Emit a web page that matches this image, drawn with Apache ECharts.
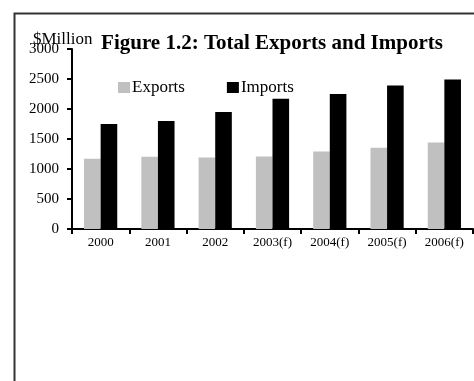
<!DOCTYPE html>
<html>
<head>
<meta charset="utf-8">
<script src="https://cdn.jsdelivr.net/npm/echarts@6/dist/echarts.min.js"></script>
<style>
  html, body { margin: 0; padding: 0; background: #fff; }
  #chart { width: 474px; height: 381px; }
</style>
</head>
<body>
<div id="chart"></div>
<script>
// 数据
const years = ['2000', '2001', '2002', '2003(f)', '2004(f)', '2005(f)', '2006(f)'];
const exportsData = [1170, 1205, 1190, 1210, 1290, 1355, 1440];
const importsData = [1750, 1800, 1950, 2170, 2250, 2390, 2490];

const serif = '"Liberation Serif", "Times New Roman", serif';

const chart = echarts.init(document.getElementById('chart'));

chart.setOption({
    animation: false,
    backgroundColor: '#fff',
    title: {
        text: 'Figure 1.2: Total Exports and Imports',
        left: 267,
        textAlign: 'center',
        top: 28,
        textStyle: { fontFamily: serif, fontSize: 21, fontWeight: 'bold', color: '#000' }
    },
    legend: {
        left: 113,
        top: 74,
        icon: 'rect',
        itemWidth: 12,
        itemHeight: 11,
        itemGap: 42,
        textStyle: { fontFamily: serif, fontSize: 17, color: '#000', padding: [0, 0, 0, -3] },
        data: ['Exports', 'Imports']
    },
    grid: { left: 72, right: 1, top: 49, bottom: 152 },
    xAxis: {
        type: 'category',
        data: years,
        axisLine: { lineStyle: { color: '#000', width: 2 } },
        axisTick: { show: true, length: 5, lineStyle: { color: '#000', width: 2 } },
        axisLabel: { fontFamily: serif, fontSize: 13, color: '#000', margin: 7 }
    },
    yAxis: {
        type: 'value',
        min: 0,
        max: 3000,
        interval: 500,
        splitLine: { show: false },
        axisLine: { show: true, lineStyle: { color: '#000', width: 2 } },
        axisTick: { show: true, length: 5, lineStyle: { color: '#000', width: 2 } },
        axisLabel: { fontFamily: serif, fontSize: 15, color: '#000', margin: 13, formatter: v => String(v) }
    },
    series: [
        {
            name: 'Exports',
            type: 'bar',
            data: exportsData,
            barWidth: '29%',
            barGap: '0%',
            itemStyle: { color: '#c0c0c0' }
        },
        {
            name: 'Imports',
            type: 'bar',
            data: importsData,
            barWidth: '29%',
            itemStyle: { color: '#000' }
        }
    ],
    graphic: [
        {
            type: 'polyline',
            shape: { points: [[14.5, 381], [14.5, 13.5], [474, 13.5]] },
            style: { stroke: '#333', lineWidth: 2, fill: null }
        },
        {
            type: 'text',
            left: 33,
            top: 31,
            style: { text: '$Million', fontFamily: serif, fontSize: 17, fill: '#000' }
        }
    ]
});
</script>
</body>
</html>
